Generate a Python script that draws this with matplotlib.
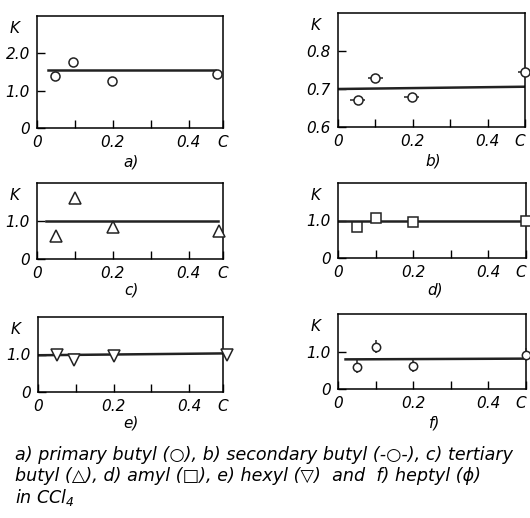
import numpy as np
import matplotlib
matplotlib.use("Agg")
from matplotlib import pyplot as plt

plt.rcParams['font.family'] = ['DejaVu Sans']
plt.rcParams['font.style'] = 'italic'
plt.rcParams['mathtext.default'] = 'it'

# concentrations C and K values
c_a = [0.048, 0.095, 0.197, 0.475]
k_a = [1.38, 1.77, 1.26, 1.44]
c_b = [0.053, 0.10, 0.197, 0.50]
k_b = [0.672, 0.730, 0.680, 0.744]
c_c = [0.05, 0.10, 0.20, 0.48]
k_c = [0.60, 1.60, 0.84, 0.74]
c_d = [0.05, 0.10, 0.20, 0.50]
k_d = [0.84, 1.06, 0.97, 1.00]
c_e = [0.05, 0.095, 0.20, 0.50]
k_e = [1.00, 0.85, 0.97, 1.00]
c_f = [0.05, 0.10, 0.20, 0.50]
k_f = [0.60, 1.13, 0.62, 0.92]

# mean lines
line_a = ([0.03, 0.47], [1.56, 1.56])
line_b = ([0.0, 0.5], [0.700, 0.706])
line_c = ([0.025, 0.478], [1.0, 1.0])
line_d = ([0.0, 0.5], [1.0, 1.0])
line_e = ([0.0, 0.5], [0.98, 1.03])
line_f = ([0.02, 0.5], [0.79, 0.81])

W, H = 530, 518
fig = plt.figure(figsize=(W / 100, H / 100), dpi=100)


def box(l, t, r, b):
    return [l / W, 1 - b / H, (r - l) / W, (b - t) / H]


def panel(rect, xmax, ylim, yticks, ylabels, tag, tag_xy, right=False):
    ax = fig.add_axes(box(*rect))
    ax.set_xlim(0, xmax)
    ax.set_ylim(*ylim)
    ax.set_xticks([0, 0.1, 0.2, 0.3, 0.4, xmax])
    ax.set_xticklabels(['0', '', '0.2', '', '0.4', 'C'])
    ax.set_yticks(yticks)
    ax.set_yticklabels(ylabels)
    ax.tick_params(direction='in', length=6, width=1, labelsize=11, pad=5)
    if right:
        ax.get_xticklabels()[-1].set_ha('right')
    for s in ax.spines.values():
        s.set_linewidth(1.1)
    ax.annotate('K', xy=(0, 1), xycoords='axes fraction', xytext=(-16, -9),
                textcoords='offset points', ha='center', va='center', fontsize=11)
    fig.text(tag_xy[0] / W, 1 - tag_xy[1] / H, tag, ha='center', va='center', fontsize=11)
    return ax


mk = dict(mfc='white', mec='#222222', mew=1.1, ls='none', clip_on=False, zorder=3)
ln = dict(color='#222222', lw=1.8, zorder=2)

ax = panel((37, 16, 223, 128), 0.49, (0, 3), [0, 1, 2], ['0', '1.0', '2.0'], 'a)', (131, 162))
ax.plot(*line_a, **ln)
ax.plot(c_a, k_a, marker='o', ms=6.5, **mk)

ax = panel((338, 13, 525, 127), 0.5, (0.6, 0.9), [0.6, 0.7, 0.8], ['0.6', '0.7', '0.8'], 'b)', (433, 161), True)
ax.plot(*line_b, **ln)
ax.errorbar(c_b, k_b, xerr=0.02, fmt='o', ms=6.5, mfc='white', mec='#222222', mew=1.1,
            ecolor='#222222', elinewidth=1.1, capsize=0, clip_on=False, zorder=3)

ax = panel((37, 183, 223, 259), 0.49, (0, 2), [0, 1], ['0', '1.0'], 'c)', (131, 290))
ax.plot(*line_c, **ln)
ax.plot(c_c, k_c, marker='^', ms=8, **mk)

ax = panel((338, 183, 526, 258), 0.5, (0, 2), [0, 1], ['0', '1.0'], 'd)', (435, 290), True)
ax.plot(*line_d, **ln)
ax.plot(c_d, k_d, marker='s', ms=7, **mk)

ax = panel((38, 317, 223, 392), 0.49, (0, 2), [0, 1], ['0', '1.0'], 'e)', (131, 423))
ax.plot(*line_e, **ln)
ax.plot(c_e, k_e, marker='v', ms=8, **mk)

ax = panel((338, 314, 526, 389), 0.5, (0, 2), [0, 1], ['0', '1.0'], 'f)', (435, 423), True)
ax.plot(*line_f, **ln)
ax.errorbar(c_f, k_f, yerr=0.17, fmt='o', ms=6, mfc='white', mec='#222222', mew=1.1,
            ecolor='#222222', elinewidth=1.1, capsize=0, clip_on=False, zorder=3)

caption = ["a) primary butyl (○), b) secondary butyl (-○-), c) tertiary",
           "butyl (△), d) amyl (□), e) hexyl (▽)  and  f) heptyl (ϕ)",
           "in CCl$_4$"]
for i, line in enumerate(caption):
    fig.text(15 / W, 1 - (455 + 21 * i) / H, line, ha='left', va='center', fontsize=12.6)

fig.savefig("out.png", dpi=100)
